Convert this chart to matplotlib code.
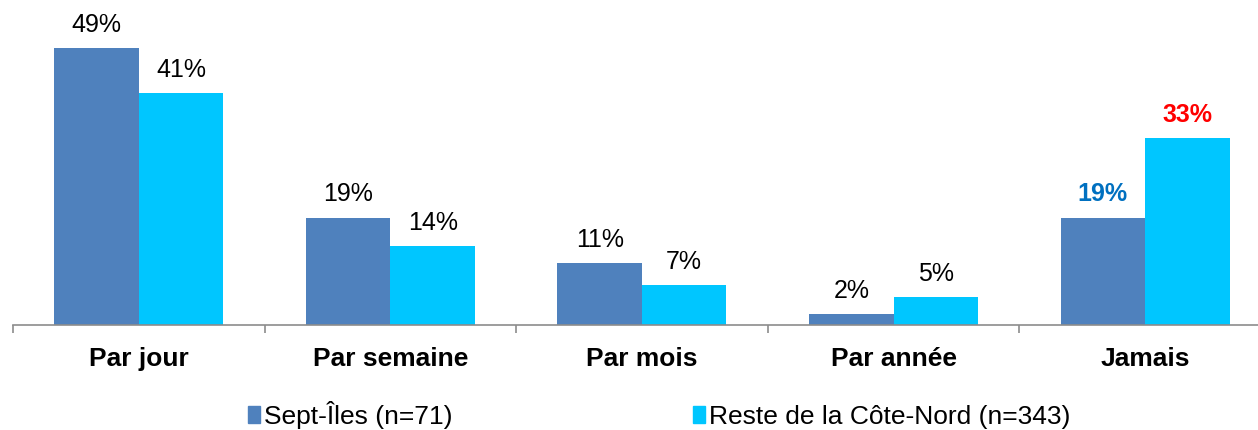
import numpy as np
import matplotlib.pyplot as plt
from matplotlib.patches import Patch

plt.rcParams['font.family'] = ['Liberation Sans', 'DejaVu Sans']

categories = ["Par jour", "Par semaine", "Par mois", "Par année", "Jamais"]
sept_iles = [49, 19, 11, 2, 19]
reste_cote_nord = [41, 14, 7, 5, 33]
series_names = ["Sept-Îles (n=71)", "Reste de la Côte-Nord (n=343)"]

blue = "#4F81BD"
cyan = "#00C6FF"

fig = plt.figure(figsize=(12.58, 4.30), dpi=100)
ax = fig.add_axes([0.0103, 0.2442, 1.0, 0.723])

x = np.arange(len(categories))
w = 0.336
b1 = ax.bar(x - w / 2, sept_iles, w, color=blue)
b2 = ax.bar(x + w / 2, reste_cote_nord, w, color=cyan)

ax.set_xlim(-0.5, len(categories) - 0.5)
ax.set_ylim(0, 55)

# value labels; the last group is highlighted
for i, (r1, r2) in enumerate(zip(b1, b2)):
    for r, v in ((r1, sept_iles[i]), (r2, reste_cote_nord[i])):
        color, weight = "black", "normal"
        if i == len(categories) - 1:
            weight = "bold"
            color = "#0070C0" if r is r1 else "#FF0000"
        ax.annotate(f"{v}%", (r.get_x() + r.get_width() / 2, v),
                    xytext=(0, 8), textcoords="offset points",
                    ha="center", va="bottom", fontsize=18,
                    color=color, fontweight=weight)

for s in ("top", "right", "left"):
    ax.spines[s].set_visible(False)
ax.spines["bottom"].set_color("#8C8C8C")
ax.spines["bottom"].set_linewidth(1.2)
ax.set_yticks([])

# boundary ticks between categories, labels at the centres
ax.set_xticks(np.arange(len(categories) + 1) - 0.5)
ax.set_xticklabels([])
ax.tick_params(axis="x", which="major", length=6, width=1.2, color="#8C8C8C")
ax.set_xticks(x, minor=True)
ax.set_xticklabels(categories, minor=True, fontsize=19, fontweight="bold")
ax.tick_params(axis="x", which="minor", length=0, pad=16)

handles = [Patch(color=blue), Patch(color=cyan)]
fig.legend(handles, series_names, loc="center", bbox_to_anchor=(0.524, 0.035),
           ncol=2, frameon=False, fontsize=19, handlelength=0.45,
           handleheight=0.6, handletextpad=0.15, columnspacing=9.1)

fig.savefig("out.png", dpi=100)
